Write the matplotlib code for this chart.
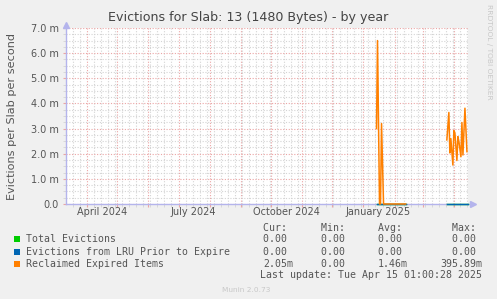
import numpy as np
import pandas as pd
import matplotlib
matplotlib.use('Agg')
import matplotlib.pyplot as plt
import matplotlib.dates as mdates
import matplotlib.transforms as mtransforms
from matplotlib.patches import Rectangle

nan = np.nan

# zero runs for the two eviction series (no data elsewhere)
zero_dates = ['2025-01-14', '2025-02-12', '2025-02-13', '2025-03-25', '2025-04-15']
total_vals = [0.0, 0.0, nan, 0.0, 0.0]
lru_vals = [0.0, 0.0, nan, 0.0, 0.0]

# reclaimed expired items, in milli per second
reclaimed_dates = ['2025-01-14', '2025-01-15', '2025-01-17', '2025-01-18', '2025-01-19',
                   '2025-01-21', '2025-02-12', '2025-02-13',
                   '2025-03-25', '2025-03-27', '2025-03-28', '2025-03-29', '2025-03-31',
                   '2025-04-01', '2025-04-02', '2025-04-04', '2025-04-05', '2025-04-06',
                   '2025-04-08', '2025-04-09', '2025-04-10', '2025-04-12', '2025-04-14']
reclaimed_vals = [3.0, 6.5, 0.0, 0.0, 3.2,
                  0.0, 0.0, nan,
                  2.55, 3.64, 2.03, 2.6, 1.55,
                  2.92, 2.83, 1.73, 2.68, 2.48,
                  1.88, 3.24, 1.95, 3.81, 2.08]

labels = ['Total Evictions', 'Evictions from LRU Prior to Expire', 'Reclaimed Expired Items']
colors = ['#00CC00', '#0066B3', '#FF8000']
stats = [['0.00 ', '0.00 ', '0.00 ', '0.00 '],
         ['0.00 ', '0.00 ', '0.00 ', '0.00 '],
         ['2.05m', '0.00 ', '1.46m', '395.89m']]
stat_heads = ['Cur: ', 'Min: ', 'Avg: ', 'Max: ']

month_labels = ['April 2024', 'July 2024', 'October 2024', 'January 2025']
month_label_dates = ['2024-04-16', '2024-07-16', '2024-10-16', '2025-01-16']

W, H = 497, 299
fig = plt.figure(figsize=(W / 100, H / 100), dpi=100, facecolor='#F0F0F0')
ax = fig.add_axes([66 / W, 1 - 204 / H, 402 / W, 176 / H])
ax.set_facecolor('white')

ax.plot(pd.to_datetime(zero_dates), total_vals, color=colors[0], lw=1.0, zorder=3, clip_on=False)
ax.plot(pd.to_datetime(zero_dates), lru_vals, color=colors[1], lw=1.0, zorder=3, clip_on=False)
ax.plot(pd.to_datetime(reclaimed_dates), reclaimed_vals, color=colors[2], lw=1.1, zorder=3, clip_on=False)

ax.set_xlim(pd.Timestamp('2024-03-11 01:00'), pd.Timestamp('2025-04-15 01:00'))
ax.set_ylim(0, 7)

# grid: red monthly / per-unit, gray weekly / quarter-unit
ax.xaxis.set_major_locator(mdates.MonthLocator())
ax.xaxis.set_minor_locator(mdates.WeekdayLocator(byweekday=mdates.MO))
ax.xaxis.set_major_formatter(plt.NullFormatter())
ax.set_yticks(np.arange(0, 8, 1))
ax.set_yticks(np.arange(0, 7.01, 0.25), minor=True)
ax.set_yticklabels(['0.0'] + ['%.1f m' % v for v in range(1, 8)])
ax.grid(which='major', color='#EBA5A5', lw=0.8, linestyle=(0, (1, 1.5)))
ax.grid(which='minor', color='#D4D4D4', lw=0.8, linestyle=(0, (1, 1.5)))
ax.set_axisbelow(True)
ax.tick_params(which='major', length=2, color='#EBA5A5', labelsize=7, labelcolor='#555555', pad=3)
ax.tick_params(which='minor', length=2, color='#D4D4D4')

for s in ['top', 'right']:
    ax.spines[s].set_visible(False)
for s in ['left', 'bottom']:
    ax.spines[s].set_color('#B4B4EC')
    ax.spines[s].set_linewidth(1.0)
ax.plot([1.012], [0], marker='>', ms=5, color='#B4B4EC', transform=ax.transAxes, clip_on=False)
ax.plot([0], [1.018], marker='^', ms=5, color='#B4B4EC', transform=ax.transAxes, clip_on=False)

trans = mtransforms.blended_transform_factory(ax.transData, ax.transAxes)
for lab, d in zip(month_labels, month_label_dates):
    ax.text(pd.Timestamp(d), -8 / 176, lab, transform=trans, ha='center', va='center',
            fontsize=7, color='#555555')

fig.text(248 / W, 1 - 17 / H, 'Evictions for Slab: 13 (1480 Bytes) - by year',
         ha='center', va='center', fontsize=9.1, color='#444444')
fig.text(12 / W, 1 - 116 / H, 'Evictions per Slab per second', rotation=90,
         ha='center', va='center', fontsize=8.1, color='#555555')
fig.text(489 / W, 1 - 52 / H, 'RRDTOOL / TOBI OETIKER', rotation=270,
         ha='center', va='center', fontsize=5.4, color='#C8C8C8')

mono = 'DejaVu Sans Mono'
fs = 7.15
row_y = [239, 252, 264]
col_right = [293, 351, 408, 482]
for i, h in enumerate(stat_heads):
    fig.text(col_right[i] / W, 1 - 228 / H, h, family=mono, fontsize=fs, color='#555555',
             ha='right', va='center')
for r, (lab, c) in enumerate(zip(labels, colors)):
    y = 1 - row_y[r] / H
    fig.patches.append(Rectangle((14 / W, y - 3 / H), 6 / W, 6 / H, transform=fig.transFigure,
                                 facecolor=c, edgecolor='none'))
    fig.text(26 / W, y, lab, family=mono, fontsize=fs, color='#555555', ha='left', va='center')
    for i, v in enumerate(stats[r]):
        fig.text(col_right[i] / W, y, v, family=mono, fontsize=fs, color='#555555',
                 ha='right', va='center')
fig.text(482 / W, 1 - 275 / H, 'Last update: Tue Apr 15 01:00:28 2025', family=mono,
         fontsize=fs, color='#555555', ha='right', va='center')
fig.text(246 / W, 1 - 290 / H, 'Munin 2.0.73', fontsize=5.3, color='#C8C8C8',
         ha='center', va='center')

fig.savefig('out.png', dpi=100, facecolor=fig.get_facecolor())
